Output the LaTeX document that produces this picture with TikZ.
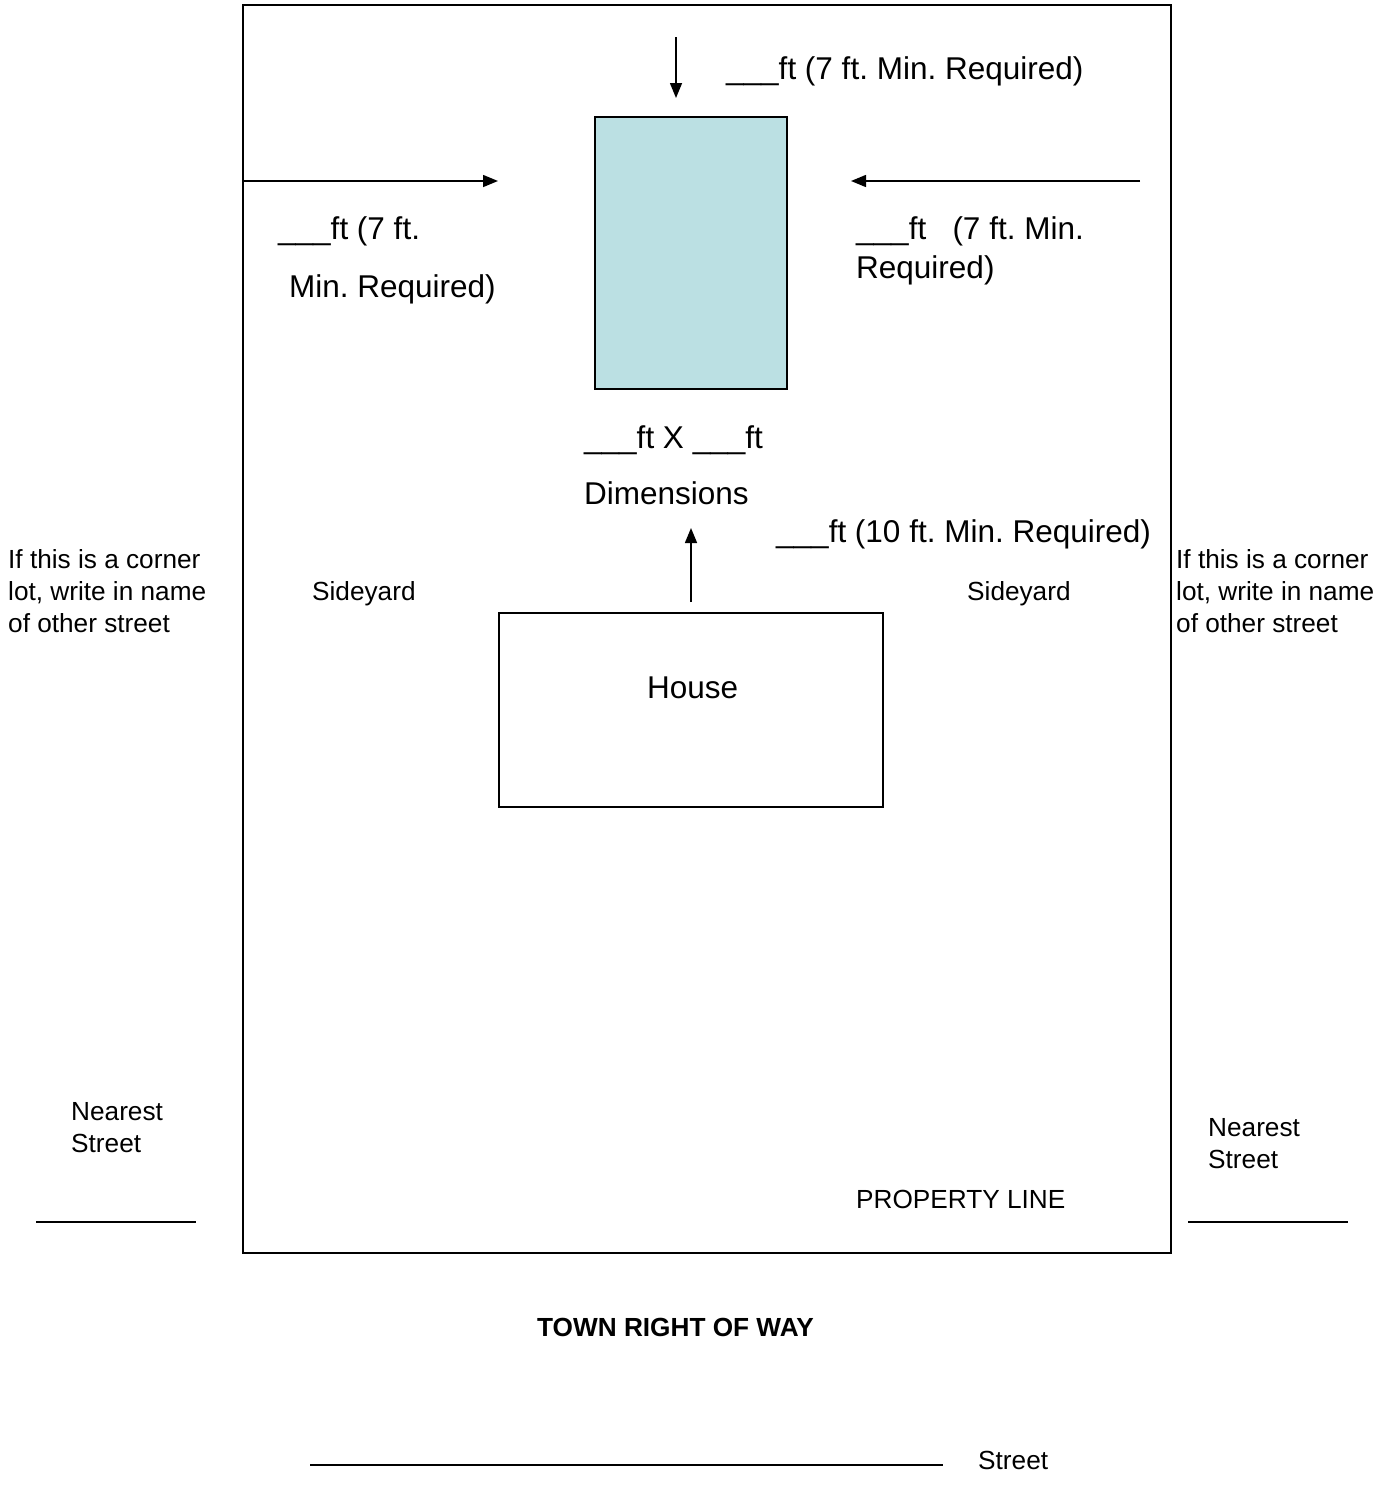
\documentclass[tikz,border=0pt]{standalone}
\usepackage{fontspec}
\setmainfont{Liberation Sans}
\usetikzlibrary{arrows.meta}
\frenchspacing
\newcommand\bigtxt{\fontsize{31.5}{39}\selectfont}
\newcommand\smltxt{\fontsize{26.2}{32}\selectfont}
\definecolor{shedblue}{HTML}{BBE0E3}
\begin{document}
\begin{tikzpicture}[x=1pt,y=-1pt,
  big/.style={anchor=base west, inner sep=0pt, font=\bigtxt},
  sml/.style={anchor=base west, inner sep=0pt, font=\smltxt},
  arr/.style={line width=1.5pt, -{Triangle[length=15pt,width=12pt]}},
  box/.style={draw, line width=2pt, anchor=north west, inner sep=0pt, outer sep=0pt},
  blank/.style={line width=2pt}]
\useasboundingbox (0,0) rectangle (1378,1505);
% property lot
\node[box, minimum width=928pt, minimum height=1248pt] (lot) at (243,5) {};
% accessory building
\node[box, fill=shedblue, minimum width=192pt, minimum height=272pt] (shed) at (595,117) {};
% house
\node[box, line width=1.8pt, minimum width=384pt, minimum height=194pt] (house) at (499,613) {};
\node[big] (houselbl) at (647,698) {House};
% arrows
\coordinate (tA) at (676,37);  \coordinate (tB) at (676,98);
\coordinate (lA) at (243,181); \coordinate (lB) at (498,181);
\coordinate (rA) at (1140,181); \coordinate (rB) at (851,181);
\coordinate (uA) at (691,602); \coordinate (uB) at (691,528);
\draw[arr] (tA) -- (tB);
\draw[arr] (lA) -- (lB);
\draw[arr] (rA) -- (rB);
\draw[arr] (uA) -- (uB);
% setback labels
\node[big] (top) at (726,79) {\_\_\_ft (7 ft. Min. Required)};
\node[big] (left1) at (278,239) {\_\_\_ft (7 ft.};
\node[big] (left2) at (289,297) {Min. Required)};
\node[big] (right1) at (856,239) {\_\_\_ft~~ (7 ft. Min.};
\node[big] (right2) at (856,278) {Required)};
\node[big] (dim1) at (584,448) {\_\_\_ft X \_\_\_ft};
\node[big] (dim2) at (584,504) {Dimensions};
\node[big] (front) at (776,542) {\_\_\_ft (10 ft. Min. Required)};
% side texts
\node[sml] (cl1) at (8,568) {If this is a corner};
\node[sml] (cl2) at (8,600) {lot, write in name};
\node[sml] (cl3) at (8,632) {of other street};
\node[sml] (cr1) at (1176,568) {If this is a corner};
\node[sml] (cr2) at (1176,600) {lot, write in name};
\node[sml] (cr3) at (1176,632) {of other street};
\node[sml] (sideL) at (312,600) {Sideyard};
\node[sml] (sideR) at (967,600) {Sideyard};
\node[sml] (nl1) at (71,1120) {Nearest};
\node[sml] (nl2) at (71,1152) {Street};
\node[sml] (nr1) at (1208,1136) {Nearest};
\node[sml] (nr2) at (1208,1168) {Street};
\node[sml] (prop) at (856,1208) {PROPERTY LINE};
\node[sml, font=\smltxt\bfseries] (row) at (537,1336) {TOWN RIGHT OF WAY};
\node[sml] (street) at (978,1469) {Street};
% blanks
\coordinate (bl1) at (36,1222);  \coordinate (bl2) at (196,1222);
\coordinate (br1) at (1188,1222); \coordinate (br2) at (1348,1222);
\coordinate (bs1) at (310,1465); \coordinate (bs2) at (943,1465);
\draw[blank] (bl1) -- (bl2);
\draw[blank] (br1) -- (br2);
\draw[blank, line width=2.5pt] (bs1) -- (bs2);
\end{tikzpicture}
\end{document}
